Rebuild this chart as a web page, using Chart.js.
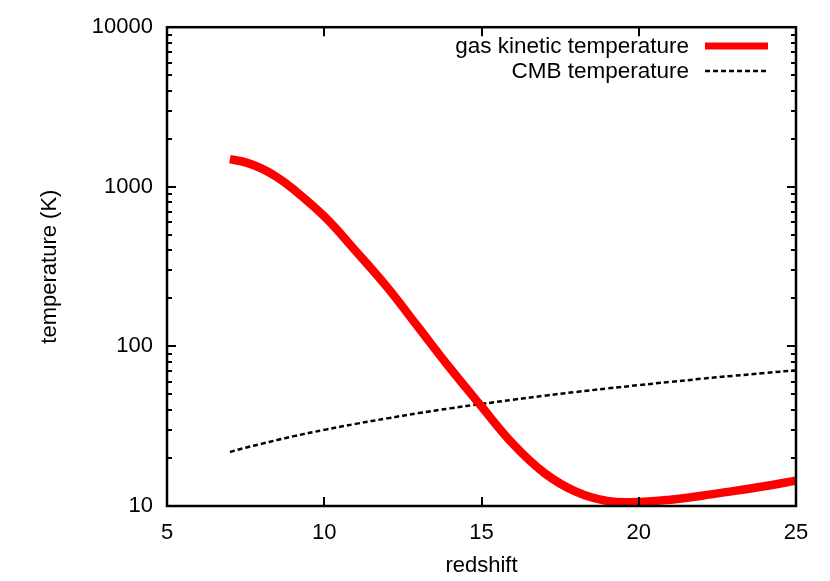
<!DOCTYPE html>
<html>
<head>
<meta charset="utf-8">
<script src="https://cdn.jsdelivr.net/npm/chart.js@4.4.1/dist/chart.umd.min.js"></script>
<style>
  body { margin: 0; background: #fff; }
  canvas { display: block; }
</style>
</head>
<body>
<canvas id="tempChart" width="830" height="581"></canvas>
<script>
// redshift samples
const redshift = [7, 7.5, 8, 8.5, 9, 10, 11, 12, 13, 14, 15, 16, 17, 18, 19, 20, 21, 22, 23, 24, 25];
// gas kinetic temperature (K)
const gasTemp = [1490, 1422, 1303, 1148, 973, 653, 396, 235, 131, 73, 42, 24.5, 16.1, 12.3, 10.75, 10.6, 10.95, 11.6, 12.4, 13.3, 14.4];
// CMB temperature (K)
const cmbTemp = [21.8, 23.2, 24.5, 25.9, 27.3, 30.0, 32.7, 35.4, 38.2, 40.9, 43.6, 46.3, 49.1, 51.8, 54.5, 57.2, 59.9, 62.7, 65.4, 68.1, 70.9];
// thin white dotted trace running inside the red curve (up to z=18)
const innerTemp = [1490, 1422, 1303, 1148, 973, 653, 396, 235, 131, 73, 42, 24.5, 16.1, 12.3];

const xTicks = [5, 10, 15, 20, 25];
const yTicks = [10, 100, 1000, 10000];

const FONT = "'Liberation Sans', Arial, Helvetica, sans-serif";

function toPoints(xs, ys) {
  return ys.map((y, i) => ({ x: xs[i], y: y }));
}

// gnuplot style frame, inward ticks and legend
const gnuplotFrame = {
  id: "gnuplotFrame",
  afterDatasetsDraw(chart) {
    const ctx = chart.ctx;
    const area = chart.chartArea;
    const xs = chart.scales.x;
    const ys = chart.scales.y;
    ctx.save();
    ctx.strokeStyle = "#000";
    ctx.lineWidth = 2;
    ctx.beginPath();
    xTicks.forEach((v) => {
      const px = Math.round(xs.getPixelForValue(v));
      ctx.moveTo(px, area.bottom); ctx.lineTo(px, area.bottom - 9);
      ctx.moveTo(px, area.top); ctx.lineTo(px, area.top + 9);
    });
    for (let d = 10; d <= 10000; d *= 10) {
      for (let m = 1; m < 10; m++) {
        const v = d * m;
        if (v > 10000) break;
        const len = m === 1 ? 9 : 5;
        const py = Math.round(ys.getPixelForValue(v));
        ctx.moveTo(area.left, py); ctx.lineTo(area.left + len, py);
        ctx.moveTo(area.right, py); ctx.lineTo(area.right - len, py);
      }
    }
    ctx.stroke();

    ctx.lineWidth = 2.5;
    ctx.strokeRect(area.left, area.top, area.right - area.left, area.bottom - area.top);

    // legend, top right
    ctx.font = "22.5px " + FONT;
    ctx.textAlign = "right";
    ctx.textBaseline = "middle";
    ctx.fillStyle = "#000";
    let rowY = 46;
    chart.data.datasets.forEach((ds) => {
      if (!ds.label) return;
      ctx.fillText(ds.label, 689, rowY + 1);
      ctx.beginPath();
      ctx.strokeStyle = ds.borderColor;
      ctx.lineWidth = ds.label.startsWith("gas") ? 7 : ds.borderWidth;
      ctx.setLineDash(ds.borderDash || []);
      ctx.moveTo(705, rowY);
      ctx.lineTo(768, rowY);
      ctx.stroke();
      ctx.setLineDash([]);
      rowY += 25;
    });
    ctx.restore();
  }
};

new Chart(document.getElementById("tempChart"), {
  type: "line",
  data: {
    datasets: [
      {
        label: "gas kinetic temperature",
        data: toPoints(redshift, gasTemp),
        borderColor: "#ff0000",
        borderWidth: 8.5,
        pointRadius: 0,
        tension: 0.4,
        borderCapStyle: "butt"
      },
      {
        label: "",
        data: toPoints(redshift, innerTemp),
        borderColor: "#ffffff",
        borderWidth: 1.5,
        borderDash: [2, 11],
        pointRadius: 0,
        tension: 0.4
      },
      {
        label: "CMB temperature",
        data: toPoints(redshift, cmbTemp),
        borderColor: "#000000",
        borderWidth: 2.5,
        borderDash: [5, 3],
        pointRadius: 0,
        tension: 0.4
      }
    ]
  },
  options: {
    responsive: false,
    animation: false,
    layout: { padding: { top: 27, right: 34, bottom: 0, left: 0 } },
    plugins: {
      legend: { display: false },
      tooltip: { enabled: false }
    },
    scales: {
      x: {
        type: "linear",
        min: 5,
        max: 25,
        afterFit: (scale) => { scale.height = 75; },
        afterBuildTicks: (scale) => { scale.ticks = xTicks.map((v) => ({ value: v })); },
        grid: { display: false, drawTicks: false },
        border: { display: false },
        ticks: {
          color: "#000",
          padding: 14,
          maxRotation: 0,
          font: { family: FONT, size: 22 }
        },
        title: {
          display: true,
          text: "redshift",
          color: "#000",
          font: { family: FONT, size: 22 },
          padding: { top: 0, bottom: 2 }
        }
      },
      y: {
        type: "logarithmic",
        min: 10,
        max: 10000,
        afterFit: (scale) => { scale.width = 167; },
        afterBuildTicks: (scale) => { scale.ticks = yTicks.map((v) => ({ value: v })); },
        grid: { display: false, drawTicks: false },
        border: { display: false },
        ticks: {
          color: "#000",
          padding: 14,
          font: { family: FONT, size: 22 },
          callback: (v) => String(v)
        },
        title: {
          display: true,
          text: "temperature (K)",
          color: "#000",
          font: { family: FONT, size: 22 },
          padding: { top: 37, bottom: 0 }
        }
      }
    }
  },
  plugins: [gnuplotFrame]
});
</script>
</body>
</html>
